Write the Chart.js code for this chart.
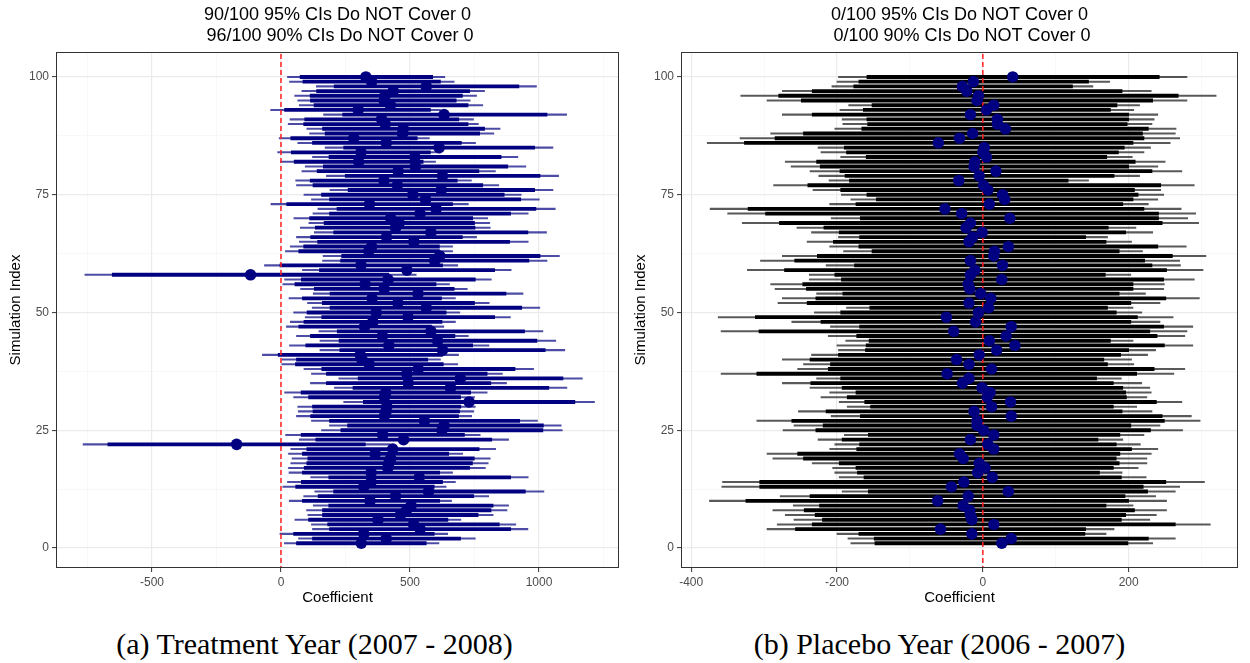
<!DOCTYPE html>
<html>
<head>
<meta charset="utf-8">
<title>Simulation CIs</title>
<script src="https://cdn.jsdelivr.net/npm/chart.js@4.4.1/dist/chart.umd.min.js"></script>
<style>
  html, body { margin: 0; padding: 0; background: #fff; }
  #page { position: relative; width: 1250px; height: 663px; overflow: hidden; }
  .panel { position: absolute; top: 0; width: 625px; height: 620px; }
  .caption {
    position: absolute; top: 626px; width: 625px; text-align: center;
    font-family: 'Liberation Serif', 'DejaVu Serif', serif; font-size: 30px;
    line-height: 36px; color: #000; white-space: nowrap;
  }
</style>
</head>
<body>
<div id="page">
  <canvas id="chart-a" class="panel" style="left:0" width="625" height="620"></canvas>
  <canvas id="chart-b" class="panel" style="left:625px" width="625" height="620"></canvas>
  <div class="caption" style="left:2px">(a) Treatment Year (2007 - 2008)</div>
  <div class="caption" style="left:627px">(b) Placebo Year (2006 - 2007)</div>
</div>
<script>
// Simulation index (y axis categories)
const simIndex = Array.from({ length: 100 }, (_, i) => i + 1);

const yTicks = [0, 12.5, 25, 37.5, 50, 62.5, 75, 87.5, 100];

// Panel (a): treatment year, rows 1..100
const treatEst = [
  311, 408, 321, 539, 514, 376, 463, 486, 504, 345,
  444, 572, 321, 349, 536, 349, 414, 418, 425, 365,
  433, -172, 475, 394, 624, 632, 556, 401, 407, 410,
  729, 401, 406, 657, 493, 695, 488, 532, 342, 314,
  307, 626, 418, 607, 393, 581, 324, 356, 492, 369,
  563, 453, 353, 531, 400, 326, 415, -118, 488, 310,
  596, 615, 340, 351, 515, 409, 581, 444, 458, 425,
  539, 601, 343, 560, 511, 621, 451, 399, 626, 454,
  521, 301, 519, 310, 613, 408, 282, 471, 474, 404,
  390, 632, 299, 424, 400, 403, 435, 563, 351, 329
];
const treatLo95 = [
  13, 68, -4, 122, 118, 54, 104, 99, 125, 32,
  88, 131, 7, 25, 115, 31, 29, 38, 43, 29,
  38, -767, 71, 18, 157, 188, 118, 60, 67, 65,
  243, 49, 14, 207, 114, 224, 118, 89, 3, 4,
  -72, 151, 33, 151, 60, 147, 21, 36, 94, 49,
  121, 103, 31, 125, 76, 7, 14, -760, 83, -64,
  161, 163, 17, 36, 71, 60, 129, 75, 108, 50,
  124, 143, -39, 118, 89, 190, 60, 57, 176, 81,
  94, -2, 122, -13, 171, 65, -7, 111, 100, 28,
  35, 165, -40, 71, 65, 53, 81, 137, 33, 25
];
const treatHi95 = [
  612, 753, 646, 957, 910, 697, 822, 876, 882, 661,
  805, 1019, 640, 676, 958, 665, 792, 803, 811, 704,
  832, 423, 882, 772, 1090, 1086, 994, 739, 747, 753,
  1215, 750, 799, 1108, 874, 1168, 858, 979, 685, 618,
  688, 1100, 806, 1065, 726, 1015, 631, 676, 889, 693,
  1003, 807, 676, 938, 722, 653, 815, 524, 892, 685,
  1031, 1079, 665, 665, 958, 758, 1029, 811, 809, 801,
  958, 1063, 726, 1001, 931, 1054, 844, 738, 1076, 831,
  949, 599, 918, 619, 1054, 754, 575, 825, 849, 765,
  746, 1107, 618, 782, 733, 758, 789, 990, 671, 635
];
const treatLo90 = [
  60, 122, 49, 188, 181, 107, 161, 161, 185, 83,
  144, 204, 57, 79, 185, 83, 90, 100, 104, 83,
  100, -671, 135, 78, 232, 258, 188, 115, 124, 122,
  319, 107, 78, 279, 176, 299, 176, 158, 56, 60,
  -11, 228, 96, 225, 114, 218, 69, 89, 158, 101,
  190, 160, 83, 190, 129, 54, 79, -654, 149, -4,
  231, 235, 69, 88, 142, 115, 204, 133, 167, 111,
  188, 217, 22, 188, 157, 260, 124, 113, 249, 140,
  164, 51, 186, 40, 243, 122, 38, 171, 161, 88,
  92, 239, 14, 128, 114, 113, 138, 206, 85, 74
];
const treatHi90 = [
  563, 696, 594, 890, 846, 647, 764, 814, 822, 615,
  747, 947, 594, 626, 890, 615, 731, 742, 749, 650,
  768, 327, 817, 711, 1015, 1017, 925, 688, 692, 697,
  1139, 696, 735, 1038, 813, 1093, 799, 907, 629, 569,
  626, 1024, 743, 992, 674, 944, 583, 624, 828, 640,
  933, 750, 622, 872, 671, 601, 753, 418, 828, 626,
  961, 1004, 614, 614, 886, 703, 957, 752, 750, 743,
  890, 988, 665, 929, 865, 983, 782, 683, 1004, 767,
  879, 551, 853, 579, 983, 699, 528, 770, 789, 725,
  689, 1031, 579, 725, 679, 703, 731, 922, 618, 588
];
const treatXTicks = [-750, -500, -250, 0, 250, 500, 750, 1000, 1250];

// Panel (b): placebo year, rows 1..100
const placeboEst = [
  26, 39, -15, -58, 15, -15, -17, -18, -27, -62,
  -20, 35, -43, -26, 13, -7, 3, -5, -27, -32,
  15, 7, -17, 15, 1, -8, -8, 39, -12, 12,
  38, 6, 10, -1, -28, -19, -49, 12, -19, -36,
  -5, 19, 44, 9, 32, -40, 39, -10, -50, -6,
  8, -19, 11, -3, -18, -20, 26, -17, -11, 27,
  -17, 15, 16, 35, -19, -14, -1, -23, -17, 37,
  -29, -52, 9, 30, 27, 7, 1, -33, -5, 18,
  -12, -11, 5, 0, 2, -61, -32, -14, 31, 20,
  20, -17, 5, 15, -8, -6, -22, -28, -13, 41
];
const placeboLo95 = [
  -181, -185, -200, -296, -282, -259, -271, -288, -260, -375,
  -278, -193, -358, -357, -197, -203, -206, -234, -288, -296,
  -210, -203, -226, -190, -274, -259, -310, -208, -253, -186,
  -197, -222, -210, -237, -275, -228, -359, -254, -246, -275,
  -235, -198, -200, -188, -212, -359, -209, -262, -363, -231,
  -187, -281, -275, -228, -285, -291, -238, -238, -323, -215,
  -305, -275, -191, -210, -241, -198, -235, -255, -330, -208,
  -350, -374, -210, -181, -194, -233, -287, -211, -225, -237,
  -263, -271, -195, -222, -226, -378, -333, -291, -203, -192,
  -193, -275, -196, -184, -296, -332, -275, -207, -200, -198
];
const placeboHi95 = [
  233, 264, 169, 180, 312, 229, 238, 252, 206, 252,
  237, 264, 270, 304, 224, 191, 213, 225, 225, 231,
  240, 216, 192, 221, 274, 243, 298, 286, 232, 211,
  273, 225, 231, 229, 218, 190, 262, 277, 207, 204,
  226, 237, 288, 206, 277, 280, 288, 243, 261, 218,
  206, 243, 297, 223, 248, 249, 290, 203, 302, 271,
  270, 306, 219, 279, 204, 171, 233, 210, 296, 281,
  292, 272, 227, 240, 248, 244, 290, 145, 215, 273,
  240, 250, 205, 221, 230, 257, 270, 264, 265, 232,
  235, 240, 207, 215, 280, 320, 231, 151, 174, 280
];
const placeboLo90 = [
  -148, -149, -170, -257, -234, -220, -230, -245, -224, -325,
  -237, -157, -306, -306, -163, -172, -174, -197, -246, -254,
  -173, -169, -193, -157, -229, -219, -262, -168, -215, -154,
  -162, -186, -174, -193, -236, -195, -310, -212, -209, -237,
  -198, -161, -160, -156, -173, -307, -169, -222, -312, -195,
  -155, -241, -229, -192, -242, -247, -194, -203, -272, -176,
  -258, -227, -152, -170, -205, -169, -197, -218, -279, -168,
  -298, -322, -174, -146, -159, -195, -240, -183, -189, -196,
  -223, -228, -160, -187, -190, -327, -285, -246, -166, -158,
  -159, -234, -164, -152, -249, -280, -234, -177, -170, -159
];
const placeboHi90 = [
  199, 227, 140, 141, 264, 190, 196, 208, 169, 200,
  195, 226, 220, 251, 190, 160, 179, 187, 183, 188,
  204, 183, 158, 188, 230, 203, 249, 246, 191, 179,
  238, 197, 196, 192, 179, 156, 211, 235, 171, 166,
  189, 200, 249, 175, 239, 229, 248, 203, 212, 183,
  171, 203, 251, 187, 206, 206, 248, 168, 252, 232,
  222, 260, 187, 240, 169, 141, 196, 172, 246, 241,
  241, 221, 192, 206, 213, 208, 244, 117, 180, 232,
  200, 209, 170, 186, 194, 206, 221, 219, 227, 198,
  200, 200, 175, 184, 233, 268, 191, 123, 145, 242
];
const placeboXTicks = [-400, -300, -200, -100, 0, 100, 200, 300];

const FONT = "'Liberation Sans', Arial, sans-serif";

function toPoints(est) {
  return est.map((v, i) => ({ x: v, y: simIndex[i] }));
}

function toIntervals(lo, hi) {
  return lo.map((v, i) => ({ x: [v, hi[i]], y: simIndex[i] }));
}

// frame round the panel, like theme_bw
const panelBorder = {
  id: 'panelBorder',
  afterDraw(chart) {
    const { ctx, chartArea: a } = chart;
    ctx.save();
    ctx.strokeStyle = '#333333';
    ctx.lineWidth = 1;
    ctx.strokeRect(a.left + 0.5, a.top + 0.5, a.right - a.left - 1, a.bottom - a.top - 1);
    ctx.restore();
  }
};

function gridOpts(isMajor) {
  return {
    color: (c) => (c.tick && isMajor(c.tick.value)) ? '#ebebeb' : '#f4f4f4',
    lineWidth: (c) => (c.tick && isMajor(c.tick.value)) ? 1.2 : 0.6,
    tickColor: (c) => (c.tick && isMajor(c.tick.value)) ? '#333333' : 'rgba(0,0,0,0)',
    tickLength: 4,
    tickWidth: 1,
    offset: false
  };
}

function makePanel(id, p) {
  const ctx = document.getElementById(id).getContext('2d');
  const xMajor = (v) => v % p.xMajorStep === 0;
  const yMajor = (v) => v % 25 === 0;

  return new Chart(ctx, {
    type: 'scatter',
    data: {
      datasets: [
        {
          // point estimates
          type: 'scatter',
          data: toPoints(p.est),
          pointRadius: 5.8,
          pointBackgroundColor: '#000080',
          pointBorderWidth: 0,
          order: 0
        },
        {
          // zero line
          type: 'line',
          data: [{ x: 0, y: -10 }, { x: 0, y: 120 }],
          borderColor: '#ff1f1f',
          borderWidth: 1.5,
          borderDash: [5, 3],
          pointRadius: 0,
          fill: false,
          order: 1
        },
        {
          // 90% CI
          type: 'bar',
          indexAxis: 'y',
          data: toIntervals(p.lo90, p.hi90),
          backgroundColor: p.thickColor,
          borderWidth: 0,
          barThickness: 3.2,
          grouped: false,
          order: 2
        },
        {
          // 95% CI
          type: 'bar',
          indexAxis: 'y',
          data: toIntervals(p.lo95, p.hi95),
          backgroundColor: p.thinColor,
          borderWidth: 0,
          barThickness: 1.4,
          grouped: false,
          order: 3
        }
      ]
    },
    options: {
      responsive: false,
      animation: false,
      devicePixelRatio: 1,
      events: [],
      layout: { padding: { left: 0, right: p.padRight, top: 0, bottom: 0 } },
      scales: {
        x: {
          type: 'linear',
          min: p.xMin,
          max: p.xMax,
          offset: false,
          afterBuildTicks: (scale) => { scale.ticks = p.xTicks.map(v => ({ value: v })); },
          afterFit: (scale) => { scale.height = 52; },
          grid: gridOpts(xMajor),
          border: { display: false },
          ticks: {
            autoSkip: false,
            maxRotation: 0,
            padding: 3,
            color: '#4d4d4d',
            font: { family: FONT, size: 12 },
            callback: (v) => xMajor(v) ? String(v) : ''
          },
          title: {
            display: true,
            text: 'Coefficient',
            color: '#000',
            font: { family: FONT, size: 15 },
            padding: { top: 0, bottom: 13 }
          }
        },
        y: {
          type: 'linear',
          min: -4.25,
          max: 105.3,
          offset: false,
          afterBuildTicks: (scale) => { scale.ticks = yTicks.map(v => ({ value: v })); },
          afterFit: (scale) => { scale.width = 56; },
          grid: gridOpts(yMajor),
          border: { display: false },
          ticks: {
            autoSkip: false,
            padding: 3,
            color: '#4d4d4d',
            font: { family: FONT, size: 12 },
            callback: (v) => yMajor(v) ? String(v) : ''
          },
          title: {
            display: true,
            text: 'Simulation Index',
            color: '#000',
            font: { family: FONT, size: 15 },
            padding: { top: 7, bottom: 0 }
          }
        }
      },
      plugins: {
        legend: { display: false },
        tooltip: { enabled: false },
        title: {
          display: true,
          fullSize: false,
          text: p.title,
          color: '#000',
          font: { family: FONT, size: 18, weight: 'normal', lineHeight: 1.15 },
          padding: { top: 4.6, bottom: 6 }
        }
      }
    },
    plugins: [panelBorder]
  });
}

document.addEventListener('DOMContentLoaded', () => {
  makePanel('chart-a', {
    title: ['90/100 95% CIs Do NOT Cover 0', ' 96/100 90% CIs Do NOT Cover 0'],
    est: treatEst, lo95: treatLo95, hi95: treatHi95, lo90: treatLo90, hi90: treatHi90,
    thinColor: 'rgba(0, 0, 128, 0.7)',
    thickColor: '#000080',
    xMin: -872, xMax: 1310, xTicks: treatXTicks, xMajorStep: 500,
    padRight: 6
  });
  makePanel('chart-b', {
    title: ['0/100 95% CIs Do NOT Cover 0', ' 0/100 90% CIs Do NOT Cover 0'],
    est: placeboEst, lo95: placeboLo95, hi95: placeboHi95, lo90: placeboLo90, hi90: placeboHi90,
    thinColor: 'rgba(0, 0, 0, 0.65)',
    thickColor: '#000000',
    xMin: -414, xMax: 350, xTicks: placeboXTicks, xMajorStep: 200,
    padRight: 12
  });
});
</script>
</body>
</html>
